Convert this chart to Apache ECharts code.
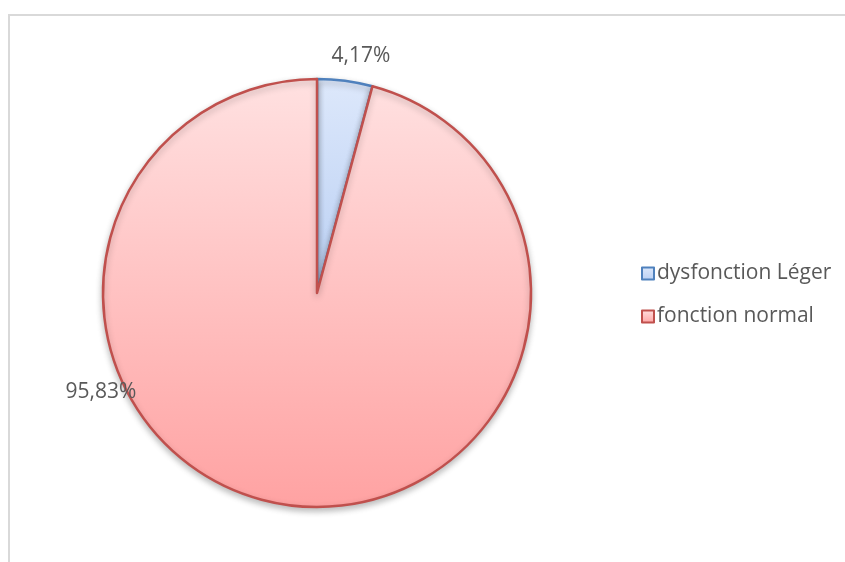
<!DOCTYPE html>
<html>
<head>
<meta charset="utf-8">
<script src="https://cdn.jsdelivr.net/npm/echarts@6/dist/echarts.min.js"></script>
<style>
html, body { margin: 0; padding: 0; background: #ffffff; }
#chart { width: 845px; height: 562px; }
</style>
</head>
<body>
<div id="chart"></div>
<script>
// Répartition de la fonction (pourcentages)
const categories = ['dysfonction Léger', 'fonction normal'];
const values = [4.17, 95.83];

const fills = [
  new echarts.graphic.LinearGradient(0, 0, 0, 1, [
    { offset: 0, color: '#dde8fb' },
    { offset: 1, color: '#b9cff3' }
  ]),
  new echarts.graphic.LinearGradient(0, 0, 0, 1, [
    { offset: 0, color: '#ffe1e1' },
    { offset: 1, color: '#ffa2a2' }
  ])
];
const borders = ['#4f81bd', '#c0504d'];
// label anchors (canvas px) for each slice's percentage text
const labelSpots = [[361, 56], [101, 392]];

const chart = echarts.init(document.getElementById('chart'), null, { renderer: 'canvas' });

chart.setOption({
  animation: false,
  backgroundColor: '#ffffff',
  graphic: [{
    type: 'rect',
    shape: { x: 9, y: 15, width: 900, height: 600 },
    style: { fill: 'none', stroke: '#d9d9d9', lineWidth: 2 },
    silent: true
  }],
  legend: {
    orient: 'vertical',
    left: 636,
    top: 258,
    itemWidth: 12,
    itemHeight: 12,
    itemGap: 22,
    icon: 'rect',
    textStyle: { fontFamily: 'Open Sans', fontSize: 21, color: '#595959', padding: [0, 0, 0, -2] },
    data: categories
  },
  series: [{
    type: 'pie',
    center: [317, 293],
    radius: [0, 214],
    startAngle: 90,
    clockwise: true,
    data: categories.map((name, i) => ({
      name: name,
      value: values[i],
      itemStyle: {
        color: fills[i],
        borderColor: borders[i],
        borderWidth: 2.5,
        shadowBlur: 6,
        shadowOffsetY: 3,
        shadowColor: 'rgba(0,0,0,0.25)'
      }
    })),
    label: {
      show: true,
      position: 'outside',
      fontFamily: 'Open Sans',
      fontSize: 21,
      color: '#595959',
      formatter: p => p.value.toFixed(2).replace('.', ',') + '%'
    },
    labelLine: { show: false },
    labelLayout: p => ({
      x: labelSpots[p.dataIndex][0],
      y: labelSpots[p.dataIndex][1],
      align: 'center',
      verticalAlign: 'middle'
    }),
    emphasis: { disabled: true }
  }]
});
</script>
</body>
</html>
